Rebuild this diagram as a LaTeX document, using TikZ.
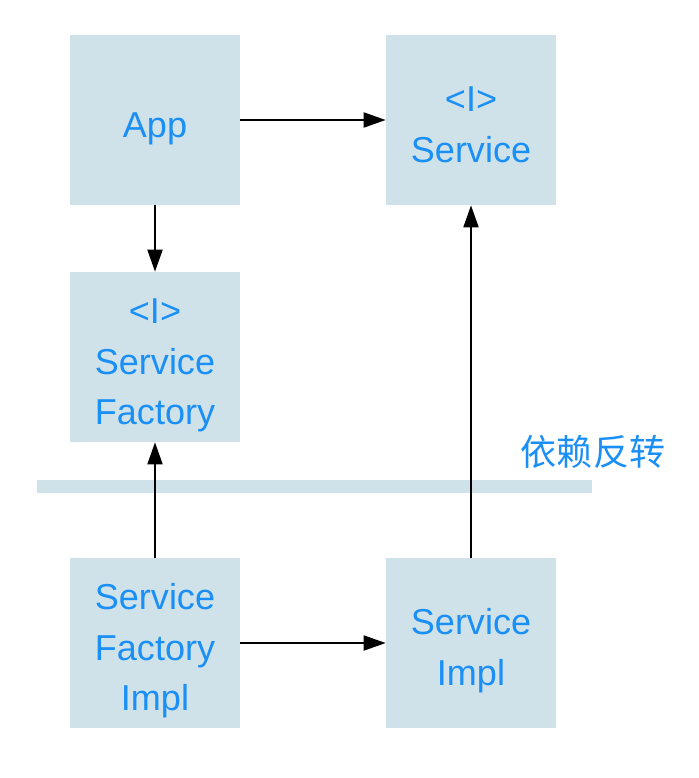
\documentclass[tikz,border=0pt]{standalone}
\usepackage{fontspec}
\setmainfont{Liberation Sans}
\newfontfamily\cjkfont{Noto Sans CJK SC}
\usepackage{xcolor}
\usetikzlibrary{positioning,arrows.meta}

\definecolor{boxfill}{HTML}{D0E2E9}
\definecolor{boxtext}{HTML}{1A8FF5}

% block label, set a little below the box centre
\newcommand{\blocklabel}[1]{\raisebox{-0.14cm}[\height][\depth]{\begin{tabular}{@{}c@{}}#1\end{tabular}}}

\begin{document}
\begin{tikzpicture}[
    x=0.02cm, y=-0.02cm,
    block/.style={rectangle, fill=boxfill, minimum width=3.4cm, minimum height=3.4cm, text=boxtext, font=\fontsize{20.5}{28.5}\selectfont, inner sep=0pt},
    divider/.style={rectangle, fill=boxfill, minimum width=11.1cm, minimum height=0.26cm, inner sep=0pt},
    arrow/.style={-{Triangle[length=0.44cm, width=0.3cm]}, line width=1.1pt},
]
\useasboundingbox (0,0) rectangle (698,778);

% === top row ===
\node[block] (app)     at (155, 120) {\blocklabel{App}};
\node[block] (service) at (471, 120) {\blocklabel{<I>\\Service}};

% === middle ===
\node[block] (factory) at (155, 357) {\blocklabel{<I>\\Service\\Factory}};

% === dependency-inversion line ===
\node[divider] (bar) at (314.5, 486) {};
\node[text=boxtext, font=\cjkfont\fontsize{20.5}{24}\selectfont] (inv) at (593, 452) {依赖反转};

% === bottom row ===
\node[block] (factoryimpl) at (155, 643) {\blocklabel{Service\\Factory\\Impl}};
\node[block] (serviceimpl) at (471, 643) {\blocklabel{Service\\Impl}};

% === arrows ===
\draw[arrow] (app.east) -- (service.west);
\draw[arrow] (app.south) -- (factory.north);
\draw[arrow] (factoryimpl.north) -- (factory.south);
\draw[arrow] (serviceimpl.north) -- (service.south);
\draw[arrow] (factoryimpl.east) -- (serviceimpl.west);

\end{tikzpicture}
\end{document}
